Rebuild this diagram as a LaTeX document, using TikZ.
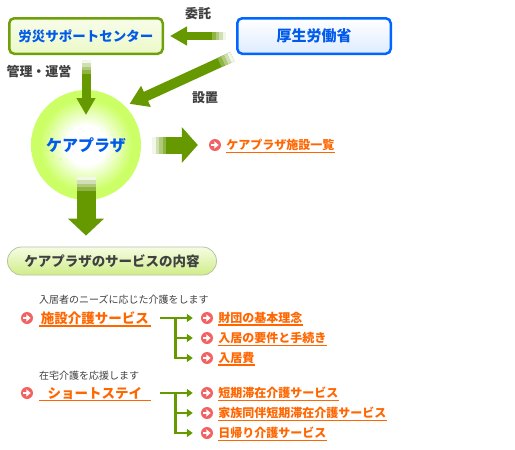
\documentclass[tikz,border=0pt]{standalone}
\usepackage{fontspec}
\setmainfont{Noto Sans CJK JP}
\usetikzlibrary{arrows.meta, positioning, calc, decorations.markings}
\definecolor{arrowgreen}{RGB}{102,153,0}
\definecolor{boxgreen}{RGB}{110,160,10}
\definecolor{limefill}{RGB}{236,249,200}
\definecolor{boxblue}{RGB}{0,102,255}
\definecolor{skyfill}{RGB}{222,236,255}
\definecolor{textblue}{RGB}{0,90,235}
\definecolor{glowgreen}{RGB}{204,255,102}
\definecolor{pilltop}{RGB}{246,252,228}
\definecolor{pillbottom}{RGB}{208,237,136}
\definecolor{pillrim}{RGB}{185,195,165}
\definecolor{linkorange}{RGB}{255,102,0}
\definecolor{iconred}{RGB}{242,98,98}
\definecolor{labelgray}{RGB}{64,64,64}
\pgfdeclareradialshading{plazaglow}{\pgfpoint{0bp}{0bp}}{color(0bp)=(white); color(9bp)=(white); color(21bp)=(glowgreen); color(25bp)=(glowgreen); color(50bp)=(glowgreen)}

\begin{document}
\begin{tikzpicture}[x=1pt, y=-1pt,
  orgbox/.style={rectangle, rounded corners=5pt, line width=2.5pt,
                 minimum width=153.5pt, minimum height=35.5pt, inner sep=0pt},
  tag/.style={text=labelgray, font=\bfseries\fontsize{13}{15}\selectfont, inner sep=0pt},
  note/.style={anchor=west, text=labelgray, font=\fontsize{10}{12}\selectfont, inner sep=0pt},
  icon/.style={circle, fill=iconred, minimum size=12pt, inner sep=0pt,
               path picture={
                 \fill[white] ([shift={(-4pt,-1.4pt)}]path picture bounding box.center)
                   rectangle ([shift={(0.5pt,1.4pt)}]path picture bounding box.center);
                 \fill[white] ([shift={(-0.6pt,-3.6pt)}]path picture bounding box.center)
                   -- ([shift={(3.6pt,0pt)}]path picture bounding box.center)
                   -- ([shift={(-0.6pt,3.6pt)}]path picture bounding box.center) -- cycle;}},
  link/.style={text=linkorange, inner xsep=0pt, inner ysep=1.2pt,
               font=\bfseries\fontsize{12}{14}\selectfont,
               append after command={(\tikzlastnode.south west)
                 edge[draw=linkorange, line width=1.3pt] (\tikzlastnode.south east)}},
  mainlink/.style={link, minimum width=111pt, font=\bfseries\fontsize{13.5}{16}\selectfont},
  bigarrow/.style={draw=arrowgreen, line width=#1},
  tailfade/.style 2 args={postaction={decorate, decoration={markings,
      mark=between positions #1 and #2 step 3.5pt with {
        \pgfmathtruncatemacro\fadeval{8+22*(\pgfkeysvalueof{/pgf/decoration/mark info/sequence number}-1)}
        \fill[arrowgreen!\fadeval] (-0.1pt,-0.5\pgflinewidth) rectangle (3.6pt,0.5\pgflinewidth);}}}},
  branch/.style={draw=arrowgreen, line width=2.5pt, -{Triangle[width=8pt,length=6pt]}, shorten >=8pt}
]
\useasboundingbox (0,0) rectangle (515,450);
\fill[white] (0,0) rectangle (515,450);

% top row
\node[orgbox, draw=boxgreen, top color=white!60!limefill, bottom color=limefill, text=textblue,
      font=\bfseries\fontsize{13.5}{16}\selectfont] (rosai) at (86,36) {労災サポートセンター};
\node[orgbox, draw=boxblue, top color=white, bottom color=skyfill, text=textblue,
      font=\bfseries\fontsize{15}{17}\selectfont] (mhlw) at (314,36) {厚生労働省};
\node[tag] (itaku) at (198,14) {委託};
\node[tag] (setchi) at (205,98) {設置};
\node[tag] (kanri) at (39,72) {管理・運営};

% care plaza
\node[circle, minimum size=110pt, inner sep=0pt, shade, shading=plazaglow, text=textblue,
      font=\bfseries\fontsize{16}{18}\selectfont] (plaza) at (86,145) {ケアプラザ};
\node[icon] (icList) at (215,145) {};
\node[link, right=5pt of icList] (plist) {ケアプラザ施設一覧};

\node[rectangle, rounded corners=14pt, draw=pillrim, line width=0.8pt,
      top color=pilltop, bottom color=pillbottom, minimum width=209pt, minimum height=28pt,
      text=labelgray, font=\bfseries\fontsize{13.5}{16}\selectfont] (svc) at (112,261)
  {ケアプラザのサービスの内容};

% services
\node[note] (noteA) at (39,300) {入居者のニーズに応じた介護をします};
\node[icon] (icA) at (27,318) {};
\node[mainlink, right=6pt of icA] (shisetsu) {施設介護サービス};
\node[icon] (icA1) at (207,318) {};
\node[icon] (icA2) at (207,338) {};
\node[icon] (icA3) at (207,358) {};
\node[link, right=5pt of icA1] (rinen) {財団の基本理念};
\node[link, right=5pt of icA2] (yoken) {入居の要件と手続き};
\node[link, right=5pt of icA3] (hiyou) {入居費};

\node[note] (noteB) at (39,376) {在宅介護を応援します};
\node[icon] (icB) at (27,393) {};
\node[mainlink, right=6pt of icB] (short) {ショートステイ};
\node[icon] (icB1) at (207,393) {};
\node[icon] (icB2) at (207,413) {};
\node[icon] (icB3) at (207,433) {};
\node[link, right=5pt of icB1] (tanki) {短期滞在介護サービス};
\node[link, right=5pt of icB2] (kazoku) {家族同伴短期滞在介護サービス};
\node[link, right=5pt of icB3] (higaeri) {日帰り介護サービス};

% big arrows
\draw[bigarrow=8pt, -{Triangle[width=18pt,length=17pt]}, shorten <=10pt, shorten >=6pt,
      tailfade={10pt}{21pt}] (mhlw.west) -- (rosai.east);
\draw[bigarrow=9pt, -{Triangle[width=18pt,length=17pt]}, shorten <=5pt, shorten >=30pt,
      tailfade={5pt}{16pt}] (rosai.south) -- (plaza.center);
\draw[bigarrow=10pt, -{Triangle[width=22pt,length=18pt]}, shorten <=4pt, shorten >=5pt,
      tailfade={4pt}{15pt}] (mhlw.south west) -- (plaza.45);
\draw[bigarrow=17pt, -{Triangle[width=35pt,length=16pt]}, shorten <=11pt, shorten >=11pt,
      tailfade={11pt}{22pt}] (plaza.east) -- (icList.west);
\draw[bigarrow=19pt, -{Triangle[width=35pt,length=17pt]}, shorten <=32pt, shorten >=11pt,
      tailfade={32pt}{43pt}] (plaza.center) -- (plaza.center |- svc.north);

% service trees
\draw[branch, shorten <=9pt] (shisetsu.east) -- (icA1.west);
\draw[branch] ($(shisetsu.east)!0.5!(icA1.west)$) |- (icA2.west);
\draw[branch] ($(shisetsu.east)!0.5!(icA1.west)$) |- (icA3.west);
\draw[branch, shorten <=9pt] (short.east) -- (icB1.west);
\draw[branch] ($(short.east)!0.5!(icB1.west)$) |- (icB2.west);
\draw[branch] ($(short.east)!0.5!(icB1.west)$) |- (icB3.west);
\end{tikzpicture}
\end{document}
